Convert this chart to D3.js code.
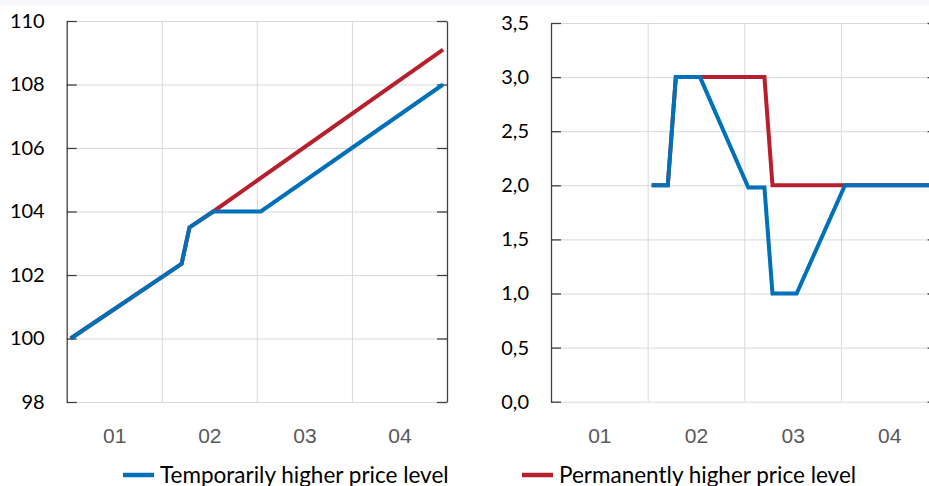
<!DOCTYPE html>
<html>
<head>
<meta charset="utf-8">
<script src="https://cdn.jsdelivr.net/npm/d3@7"></script>
<style>
  body { margin: 0; background: #fff; }
  svg { display: block; font-family: Lato, "Open Sans", sans-serif; }
</style>
</head>
<body>
<svg id="chart" width="929" height="486"></svg>
<script>
// x axis: months 0..47, grouped in four years
var yearLabels = ["01", "02", "03", "04"];

// left panel: price level (index), points at [month, value]
var levelTemporary = [[0, 100], [14, 102.35], [15, 103.5], [18, 104], [24, 104], [47, 108.0]];
var levelPermanent = [[0, 100], [14, 102.35], [15, 103.5], [18, 104], [47, 109.1]];
var levelTicks = [98, 100, 102, 104, 106, 108, 110];

// right panel: inflation, percent
var inflTemporary = [[12, 2.0], [14, 2.0], [15, 3.0], [18, 3.0], [24, 1.98], [26, 1.98], [27, 1.0], [30, 1.0], [36, 2.0], [47, 2.0]];
var inflPermanent = [[12, 2.0], [14, 2.0], [15, 3.0], [26, 3.0], [27, 2.0], [47, 2.0]];
var inflTicks = [0, 0.5, 1.0, 1.5, 2.0, 2.5, 3.0, 3.5];

var seriesNames = ["Temporarily higher price level", "Permanently higher price level"];
var blue = "#0070b8", red = "#b81f2d";
var font = "Lato, 'Open Sans', sans-serif";

var svg = d3.select("#chart");

// faint strip along the top edge
svg.append("rect").attr("width", 929).attr("height", 5).attr("fill", "#f6f8fc");

var commaFmt = d3.formatLocale({decimal: ",", thousands: " ", grouping: [3], currency: ["", ""]});

function panel(opts) {
  var x = d3.scaleLinear().domain([0, 48]).range([opts.left, opts.right]);
  var y = d3.scaleLinear().domain(opts.domain).range([opts.bottom, opts.top]);
  var g = svg.append("g");

  // horizontal gridlines
  g.append("g")
      .attr("transform", "translate(" + opts.left + ",0)")
      .call(d3.axisLeft(y).tickValues(opts.ticks).tickSize(-(opts.right - opts.left)).tickFormat(""))
      .call(function(a) { a.select(".domain").remove(); })
      .selectAll("line").attr("stroke", "#d9d9d9").attr("stroke-width", 1);

  // vertical gridlines between years
  g.append("g")
      .attr("transform", "translate(0," + opts.bottom + ")")
      .call(d3.axisBottom(x).tickValues([12, 24, 36]).tickSize(-(opts.bottom - opts.top)).tickFormat(""))
      .call(function(a) { a.select(".domain").remove(); })
      .selectAll("line").attr("stroke", "#d9d9d9").attr("stroke-width", 1);

  // year labels
  g.append("g")
      .attr("transform", "translate(0," + opts.bottom + ")")
      .attr("font-family", font)
      .call(d3.axisBottom(x).tickValues([6, 18, 30, 42]).tickSize(0).tickPadding(26)
        .tickFormat(function(d, i) { return yearLabels[i]; }))
      .attr("font-size", 21)
      .call(function(a) { a.select(".domain").remove(); })
      .selectAll("text").attr("fill", "#595959");

  // value labels
  g.append("g")
      .attr("transform", "translate(" + opts.left + ",0)")
      .call(d3.axisLeft(y).tickValues(opts.ticks).tickSize(0).tickPadding(22).tickFormat(opts.format))
      .attr("font-family", font)
      .attr("font-size", 20)
      .call(function(a) { a.select(".domain").remove(); })
      .selectAll("text").attr("fill", "#000");

  // dark vertical axes with inward ticks
  [[opts.left, d3.axisRight], [opts.axisRight, d3.axisLeft]].forEach(function(p) {
    var ax = g.append("g")
        .attr("transform", "translate(" + p[0] + ",0)")
        .call(p[1](y).tickValues(opts.ticks).tickSize(10).tickSizeOuter(0).tickFormat(""));
    ax.select(".domain").attr("stroke", "#404040").attr("stroke-width", 1.3);
    ax.selectAll("line").attr("stroke", "#404040").attr("stroke-width", 1.3);
  });

  var line = d3.line()
      .x(function(d) { return x(d[0] + 0.5); })
      .y(function(d) { return y(d[1]); });

  g.append("path").datum(opts.permanent)
      .attr("d", line).attr("fill", "none").attr("stroke", red).attr("stroke-width", 4);
  g.append("path").datum(opts.temporary)
      .attr("d", line).attr("fill", "none").attr("stroke", blue).attr("stroke-width", 4);
}

panel({
  left: 66.7, right: 447, axisRight: 447, top: 21, bottom: 402,
  domain: [98, 110], ticks: levelTicks, format: d3.format("d"),
  temporary: levelTemporary, permanent: levelPermanent
});

panel({
  left: 551, right: 937.6, axisRight: 937.6, top: 23, bottom: 401.7,
  domain: [0, 3.5], ticks: inflTicks, format: commaFmt.format(".1f"),
  temporary: inflTemporary, permanent: inflPermanent
});

// legend
var legendItems = [
  {name: seriesNames[0], color: blue, x: 123},
  {name: seriesNames[1], color: red, x: 522}
];
var lg = svg.append("g").selectAll("g").data(legendItems).enter().append("g")
    .attr("transform", function(d) { return "translate(" + d.x + ",475)"; });
lg.append("line").attr("x1", 0).attr("x2", 31).attr("stroke", function(d) { return d.color; }).attr("stroke-width", 4.5);
lg.append("text").attr("x", 37).attr("y", 8).attr("font-size", 22.5).attr("fill", "#000")
    .text(function(d) { return d.name; });
</script>
</body>
</html>
